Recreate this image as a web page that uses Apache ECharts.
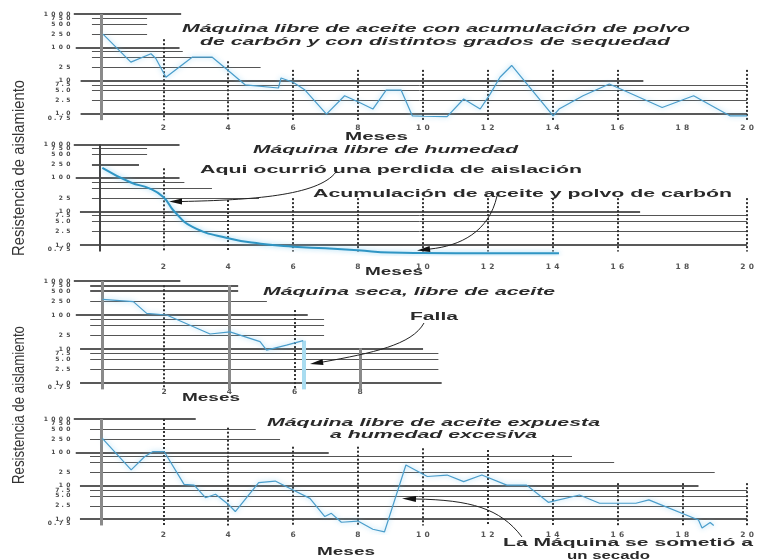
<!DOCTYPE html>
<html>
<head>
<meta charset="utf-8">
<script src="https://cdn.jsdelivr.net/npm/echarts@6/dist/echarts.min.js"></script>
<style>
  html, body { margin: 0; padding: 0; background: #fff; }
  #chart { width: 757px; height: 560px; }
</style>
</head>
<body>
<div id="chart"></div>
<script>
// tick labels
const yTickValues = [0.75, 1, 2.5, 5, 7.5, 10, 25, 100, 250, 500, 750, 1000];
const yTickLabels = ['0.75', '1.0', '2.5', '5.0', '7.5', '10', '25', '100', '250', '500', '750', '1000'];
const xTicks = [2, 4, 6, 8, 10, 12, 14, 16, 18, 20];
const xTicksShort = [2, 4, 6, 8];

// panel 1: maquina libre de aceite con polvo de carbon
const p1Months = [0.14, 1.0, 1.62, 1.77, 2.08, 2.9, 3.5, 4.0, 4.53, 5.55, 5.63, 6.0, 6.37, 7.03, 7.59, 8.05, 8.46, 8.87, 9.33, 9.68, 10.0, 10.75, 11.26, 11.77, 12.08, 12.38, 12.74, 14.02, 14.2, 14.94, 15.75, 16.1, 17.38, 18.35, 19.48, 20.0];
const p1Values = [250, 36, 64, 46, 12.6, 51, 51, 20, 7.4, 6, 12, 8.9, 5.2, 0.98, 3.5, 2.2, 1.4, 5.2, 5.2, 0.87, 0.85, 0.83, 2.8, 1.4, 4.0, 12.6, 28.5, 0.87, 1.4, 3.5, 7.9, 5.6, 1.56, 3.5, 0.87, 0.87];

// panel 2: maquina libre de humedad
const p2Months = [0.12, 1.0, 1.57, 2.0, 2.34, 2.9, 4.0, 5.0, 6.0, 7.0, 8.0, 9.0, 10.0, 12.0, 14.2];
const p2Values = [200, 73, 49, 27, 10, 3.5, 1.6, 1.1, 0.9, 0.8, 0.7, 0.6, 0.58, 0.57, 0.57];

// panel 3: maquina seca
const p3Months = [0.12, 1.06, 1.47, 2.08, 3.41, 4.02, 4.94, 5.14, 5.75, 6.26];
const p3Values = [289, 247, 112, 100, 27.6, 32, 16.5, 9.3, 13, 17.6];

// panel 4: humedad excesiva
const p4Months = [0.12, 1.01, 1.42, 1.67, 2.03, 2.64, 2.95, 3.3, 3.61, 4.02, 4.22, 4.94, 5.45, 6.0, 6.52, 6.98, 7.18, 7.49, 8.0, 8.46, 8.82, 9.48, 10.14, 10.75, 11.26, 11.82, 12.59, 13.2, 13.87, 14.83, 15.45, 16.57, 16.97, 18.5, 18.61, 18.86, 18.97];
const p4Values = [264, 30, 74, 105, 105, 11, 10.5, 4.4, 5.6, 2.7, 1.7, 12.4, 13.9, 7.5, 4.2, 1.2, 1.5, 0.81, 0.88, 0.5, 0.42, 42, 19, 21, 13.3, 21, 10.5, 10.5, 3.2, 5.3, 3.0, 3.0, 3.8, 0.95, 0.55, 0.8, 0.65];

// horizontal rules drawn on the paper: [valor, desde mes, hasta mes, gruesa]
const p1Rules = [[1000, -0.76, 2.55, 1], [750, -0.2, 1.5, 0], [500, -0.2, 1.5, 0], [250, -0.2, 1.5, 0], [100, -0.7, 2.5, 1], [75, -0.2, 2.6, 0], [50, -0.2, 3.5, 0], [25, -0.2, 5.0, 0], [10, -0.55, 16.8, 1], [7.5, -0.2, 20, 0], [5, -0.2, 20, 0], [2.5, -0.2, 20, 0], [1, -0.55, 20, 1]];
const p2Rules = [[1000, -0.76, 2.5, 1], [750, -0.2, 1.5, 0], [500, -0.2, 1.5, 0], [250, -0.2, 1.25, 1], [100, -0.7, 2.5, 1], [75, -0.2, 2.65, 0], [50, -0.2, 3.5, 0], [25, -0.2, 4.95, 0], [10, -0.57, 16.7, 1], [7.5, -0.2, 20, 0], [5, -0.2, 20, 0], [2.5, -0.2, 20, 0], [1, -0.57, 20, 1]];
const p3Rules = [[1000, -0.76, 2.5, 1], [750, -0.26, 4.27, 1], [500, -0.26, 4.27, 1], [250, -0.26, 5.15, 0], [100, -0.7, 6.4, 1], [75, -0.26, 6.9, 0], [50, -0.26, 6.9, 0], [25, -0.26, 6.9, 0], [10, -0.57, 9.93, 1], [7.5, -0.26, 10.4, 0], [5, -0.26, 10.4, 0], [2.5, -0.26, 10.4, 0], [1, -0.57, 10.5, 1]];
const p4Rules = [[1000, -0.76, 3.0, 1], [500, -0.26, 4.85, 0], [250, -0.26, 5.6, 0], [100, -0.7, 7.1, 1], [75, -0.26, 14.6, 0], [50, -0.26, 15.9, 0], [25, -0.26, 19.0, 0], [10, -0.57, 18.5, 1], [7.5, -0.26, 20, 0], [5, -0.26, 20, 0], [2.5, -0.26, 20, 0], [1, -0.57, 20, 1]];

// vertical rules: [mes, valor arriba, valor abajo, estilo]
const p1Verts = [[0.1, 1000, 0.65, 'thick'], [2, 175, 0.65, 'dot'], [4, 38, 0.65, 'dot'], [6, 21, 0.65, 'dot'], [8, 21, 0.65, 'dot'], [10, 21, 0.65, 'dot'], [12, 21, 0.65, 'dot'], [14, 21, 0.65, 'dot'], [16, 21, 0.65, 'dot'], [20, 21, 0.65, 'dot']];
const p2Verts = [[0.05, 1000, 0.65, 'dark'], [2, 193, 0.65, 'dot'], [4, 22, 0.65, 'dot'], [6, 25, 0.65, 'dot'], [8, 25, 0.65, 'dot'], [10, 25, 0.65, 'dot'], [12, 25, 0.65, 'dot'], [14, 25, 0.65, 'dot'], [16, 25, 0.65, 'dot'], [20, 25, 0.65, 'dot']];
const p3Verts = [[0.1, 1000, 0.65, 'thick'], [2, 750, 0.65, 'dot'], [4, 750, 0.65, 'thick'], [6, 140, 0.65, 'dot'], [8, 10.5, 0.65, 'thick'], [6.28, 17.6, 0.65, 'blue']];
const p4Verts = [[0.1, 1000, 0.65, 'thick'], [2, 1000, 0.65, 'dot'], [4, 550, 0.65, 'dot'], [6, 148, 0.65, 'dot'], [8, 148, 0.65, 'dot'], [10, 133, 0.65, 'dot'], [12, 118, 0.65, 'dot'], [14, 84, 0.65, 'dot'], [16, 12, 0.65, 'dot'], [18, 12, 0.65, 'dot'], [20, 12, 0.65, 'dot']];

const panels = [
    {top: 14, dec: 33.3, yMin: 0.5, labelY: 128, ticks: xTicks, months: p1Months, values: p1Values, rules: p1Rules, verts: p1Verts, smooth: false, lw: 1.2},
    {top: 144.3, dec: 33.6, yMin: 0.5, labelY: 266.7, ticks: xTicks, months: p2Months, values: p2Values, rules: p2Rules, verts: p2Verts, smooth: true, lw: 2},
    {top: 281, dec: 34, yMin: 0.5, labelY: 392, ticks: xTicksShort, months: p3Months, values: p3Values, rules: p3Rules, verts: p3Verts, smooth: false, lw: 1.2},
    {top: 419, dec: 33.4, yMin: 0.35, labelY: 535, ticks: xTicks, months: p4Months, values: p4Values, rules: p4Rules, verts: p4Verts, smooth: false, lw: 1.2},
];
const yMax = 1000.5;
// the labels are packed tight; spread them over three axes so echarts hides none
const labelGroups = [
    yTickValues.filter(v => v >= 1 && v <= 500),
    yTickValues.filter(v => v === 0.75 || v === 750),
    yTickValues.filter(v => v === 1000),
];

const ruleStyles = {
    heavy: {color: '#222', width: 1.6, type: 'solid'},
    light: {color: '#555', width: 1, type: 'solid'},
    dot: {color: '#333', width: 2, type: [2, 2]},
    thick: {color: '#8a8a8a', width: 3, type: 'solid'},
    dark: {color: '#444', width: 2, type: 'solid'},
    blue: {color: '#a9dcf0', width: 4, type: 'solid'},
};

// letras separadas como en el original
function spaced(str) {
    return str.split('').map(ch => '{' + (ch === '.' ? 'p' : 'c') + '|' + ch + '}').join('');
}

function yLabel(v) {
    let best = 0;
    yTickValues.forEach((t, i) => {
        if (Math.abs(Math.log(v) - Math.log(t)) < Math.abs(Math.log(v) - Math.log(yTickValues[best]))) best = i;
    });
    return spaced(yTickLabels[best]);
}

const grids = [], xAxes = [], yAxes = [], series = [];
panels.forEach((p, i) => {
    const height = p.dec * (Math.log10(yMax) - Math.log10(p.yMin));
    grids.push({left: 66, right: 5, top: p.top, height: height});
    xAxes.push({
        type: 'value', gridIndex: i, min: -1, max: 20,
        axisLine: {show: false, onZero: false}, axisTick: {show: false}, splitLine: {show: false},
        axisLabel: {
            customValues: p.ticks, margin: p.labelY - 4 - (p.top + height),
            showMinLabel: true, showMaxLabel: true,
            formatter: v => spaced(String(Math.round(v))),
            fontSize: 7.5, fontWeight: 'bold', fontFamily: 'DejaVu Sans', color: '#555',
            rich: {c: {width: 8.5, align: 'center'}, p: {width: 4, align: 'center'}}
        }
    });
    const yIndex = yAxes.length;
    labelGroups.forEach(g => {
        yAxes.push({
            type: 'log', logBase: 10, gridIndex: i, min: p.yMin, max: yMax,
            position: 'left', offset: 0,
            axisLine: {show: false, onZero: false}, axisTick: {show: false}, splitLine: {show: false},
            axisLabel: {
                customValues: g, margin: -6, formatter: yLabel,
                showMinLabel: true, showMaxLabel: true, hideOverlap: false,
                fontSize: 6, fontWeight: 'bold', fontFamily: 'DejaVu Sans', color: '#4a4a4a',
                rich: {c: {width: 7.5, align: 'center'}, p: {width: 3.5, align: 'center'}}
            }
        });
    });
    const marks = [];
    p.rules.forEach(r => {
        marks.push([{coord: [r[1], r[0]], lineStyle: r[3] ? ruleStyles.heavy : ruleStyles.light}, {coord: [r[2], r[0]]}]);
    });
    p.verts.forEach(v => {
        marks.push([{coord: [v[0], v[1]], lineStyle: ruleStyles[v[3]]}, {coord: [v[0], v[2]]}]);
    });
    series.push({
        type: 'line', xAxisIndex: i, yAxisIndex: yIndex, data: [], z: 1,
        markLine: {
            silent: true, symbol: ['none', 'none'], label: {show: false},
            lineStyle: {type: 'solid'}, emphasis: {disabled: true}, animation: false,
            data: marks
        }
    });
    series.push({
        type: 'line', xAxisIndex: i, yAxisIndex: yIndex, z: 5,
        data: p.months.map((m, k) => [m, p.values[k]]),
        symbol: 'none', smooth: p.smooth,
        lineStyle: {color: i === 1 ? '#2f95c4' : '#4a9dcb', width: p.lw, shadowColor: 'rgba(120,200,240,0.85)', shadowBlur: 5}
    });
});

// textos del dibujo, estirados al ancho original
const italic = 'italic bold 10px "Liberation Sans"';
const bold = 'bold 11px "Liberation Sans"';
const texts = [
    {t: 'Máquina libre de aceite con acumulación de polvo', x1: 182, x2: 690, y: 29, f: italic},
    {t: 'de carbón y con distintos grados de sequedad', x1: 200, x2: 670, y: 42, f: italic},
    {t: 'Meses', x1: 345, x2: 408, y: 137, f: bold},
    {t: 'Máquina libre de humedad', x1: 253, x2: 518, y: 150, f: italic},
    {t: 'Aqui ocurrió una perdida de aislación', x1: 200, x2: 582, y: 170, f: bold},
    {t: 'Acumulación de aceite y polvo de carbón', x1: 313, x2: 732, y: 194, f: bold},
    {t: 'Meses', x1: 365, x2: 423, y: 272, f: bold},
    {t: 'Máquina seca, libre de aceite', x1: 263, x2: 555, y: 292, f: italic},
    {t: 'Falla', x1: 410, x2: 458, y: 317, f: bold},
    {t: 'Meses', x1: 182, x2: 240, y: 398, f: bold},
    {t: 'Máquina libre de aceite expuesta', x1: 267, x2: 600, y: 423, f: italic},
    {t: 'a humedad excesiva', x1: 330, x2: 537, y: 435, f: italic},
    {t: 'La Máquina se sometió a', x1: 503, x2: 753, y: 543, f: bold},
    {t: 'un secado', x1: 567, x2: 650, y: 556, f: bold},
    {t: 'Meses', x1: 317, x2: 375, y: 552, f: bold},
];
const yTitles = [{cx: 20, cy: 168, len: 176}, {cx: 20, cy: 405, len: 158}];
const arrows = [
    {p: [336, 172, 318, 196, 250, 200, 182, 201.5], tip: [169, 201.5]},
    {p: [497, 196, 489, 232, 460, 246, 430, 249], tip: [417, 250.5]},
    {p: [424, 323, 412, 345, 372, 353, 323, 362], tip: [310, 364]},
    {p: [522, 537, 500, 508, 470, 500, 416, 499], tip: [402, 498.5]},
];

const ctx = document.createElement('canvas').getContext('2d');
function measure(text, font) {
    ctx.font = font;
    return ctx.measureText(text).width;
}

const graphic = [];
texts.forEach(o => {
    graphic.push({
        type: 'text', x: (o.x1 + o.x2) / 2, y: o.y, scaleX: (o.x2 - o.x1) / measure(o.t, o.f), z: 10,
        style: {text: o.t, font: o.f, fill: '#2a2a2a', align: 'center', verticalAlign: 'middle', textAlign: 'center', textVerticalAlign: 'middle'}
    });
});
const yFont = '16px "Liberation Sans"';
yTitles.forEach(o => {
    const txt = 'Resistencia de aislamiento';
    graphic.push({
        type: 'text', x: o.cx, y: o.cy, rotation: Math.PI / 2, scaleX: o.len / measure(txt, yFont), z: 10,
        style: {text: txt, font: yFont, fill: '#333', align: 'center', verticalAlign: 'middle', textAlign: 'center', textVerticalAlign: 'middle'}
    });
});
arrows.forEach(a => {
    const p = a.p;
    graphic.push({
        type: 'bezierCurve', z: 10, silent: true,
        shape: {x1: p[0], y1: p[1], cpx1: p[2], cpy1: p[3], cpx2: p[4], cpy2: p[5], x2: p[6], y2: p[7]},
        style: {stroke: '#222', lineWidth: 1, fill: null}
    });
    const dx = a.tip[0] - p[6], dy = a.tip[1] - p[7];
    const len = Math.sqrt(dx * dx + dy * dy);
    const nx = -dy / len * 3, ny = dx / len * 3;
    graphic.push({
        type: 'polygon', z: 10, silent: true,
        shape: {points: [[a.tip[0], a.tip[1]], [p[6] + nx, p[7] + ny], [p[6] - nx, p[7] - ny]]},
        style: {fill: '#111'}
    });
});

const chart = echarts.init(document.getElementById('chart'));
chart.setOption({
    backgroundColor: '#fff',
    animation: false,
    grid: grids,
    xAxis: xAxes,
    yAxis: yAxes,
    series: series,
    graphic: graphic
});
</script>
</body>
</html>
